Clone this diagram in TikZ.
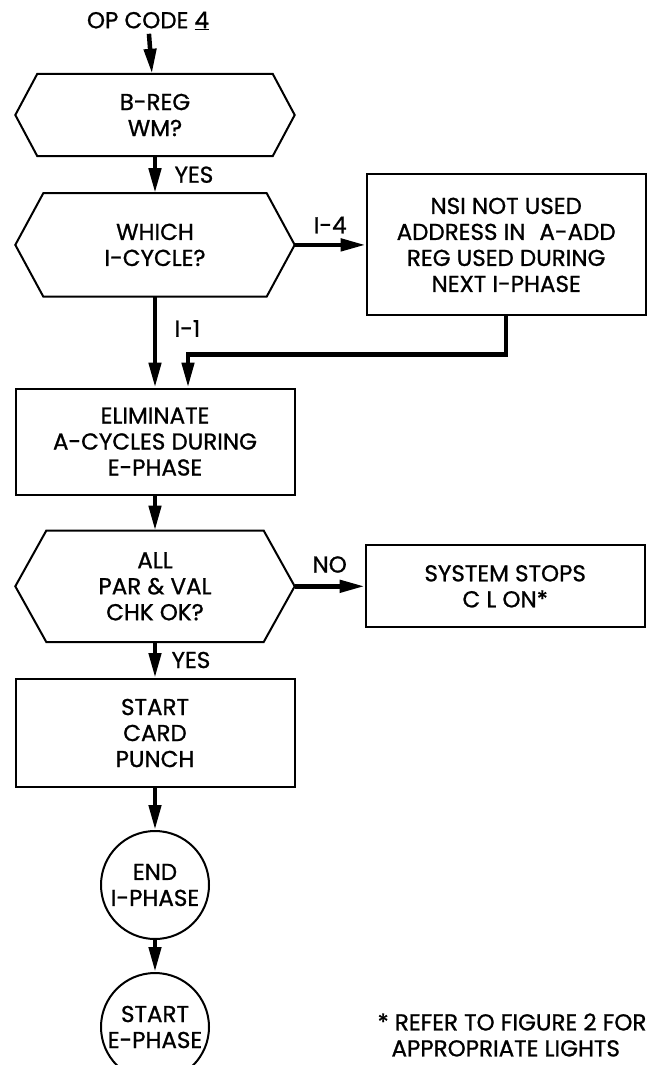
\documentclass[tikz,border=0pt]{standalone}
\usepackage{fontspec}
\setmainfont{Poppins}[FakeBold=1]
\usepackage{tikz}
\usetikzlibrary{positioning, arrows.meta, calc}

% outline of a decision box round an invisible rectangle node
\newcommand{\hexline}[2]{%
  \draw[boxline] (#1.west) -- ([xshift=#2]#1.north west) -- ([xshift=-#2]#1.north east)
    -- (#1.east) -- ([xshift=-#2]#1.south east) -- ([xshift=#2]#1.south west) -- cycle;}

\begin{document}
\begin{tikzpicture}[x=1pt, y=-1pt, font=\fontsize{23}{26}\selectfont,
  boxline/.style={line width=2pt, line join=miter},
  flowbox/.style={draw, boxline, minimum width=279pt, align=center, inner sep=0pt},
  hexbox/.style={minimum width=279pt, align=center, inner sep=0pt},
  endbox/.style={draw, boxline, circle, minimum size=108pt, align=center, inner sep=0pt},
  flowarrow/.style={line width=4.5pt, -{Triangle[length=25pt, width=12pt]}}]
  \clip (0,0) rectangle (648,1065);

  \node (opcode) at (148,21) {OP CODE \underline{4}};
  \node[hexbox, minimum height=82pt] (breg) at (155,115) {B-REG\\WM?};
  \node[hexbox, minimum height=103pt, below=37pt of breg] (which) {WHICH\\I-CYCLE?};
  \node[flowbox, minimum height=141pt, right=71pt of which] (nsi)
    {NSI NOT USED\\ADDRESS IN\hspace{14pt}A-ADD\\REG USED DURING\\NEXT I-PHASE};
  \node[flowbox, minimum height=106pt, below=91pt of which] (elim)
    {ELIMINATE\\A-CYCLES DURING\\E-PHASE};
  \node[hexbox, minimum height=111pt, below=35pt of elim] (allpar)
    {ALL\\PAR \& VAL\\CHK OK?};
  \node[flowbox, minimum height=82pt, right=70pt of allpar] (stops)
    {SYSTEM STOPS\\C L ON*};
  \node[flowbox, minimum height=108pt, below=36pt of allpar] (card)
    {START\\CARD\\PUNCH};
  \node[endbox, below=42pt of card] (endi) {END\\I-PHASE};
  \node[endbox, below=32pt of endi] (starte) {START\\E-PHASE};
  \node[align=left] (note) at (512,1035)
    {* REFER TO FIGURE 2 FOR\\\hspace{14pt}APPROPRIATE LIGHTS};

  \hexline{breg}{22pt}
  \hexline{which}{28pt}
  \hexline{allpar}{31pt}

  \draw[flowarrow] (opcode) -- (breg);
  \draw[flowarrow] (breg) -- node[right=14pt] {YES} (which);
  \draw[flowarrow] (which) -- node[above=6pt] {I-4} (nsi);
  \draw[flowarrow] (which) -- node[pos=0.35, right=14pt] {I-1} (elim);
  \draw[flowarrow] (nsi.south) -- ++(0,38) -| ([xshift=33pt]elim.north);
  \draw[flowarrow] (elim) -- (allpar);
  \draw[flowarrow] (allpar) -- node[above=8pt] {NO} (stops);
  \draw[flowarrow] (allpar) -- node[right=11pt] {YES} (card);
  \draw[flowarrow] (card) -- (endi);
  \draw[flowarrow] (endi) -- (starte);
\end{tikzpicture}
\end{document}
